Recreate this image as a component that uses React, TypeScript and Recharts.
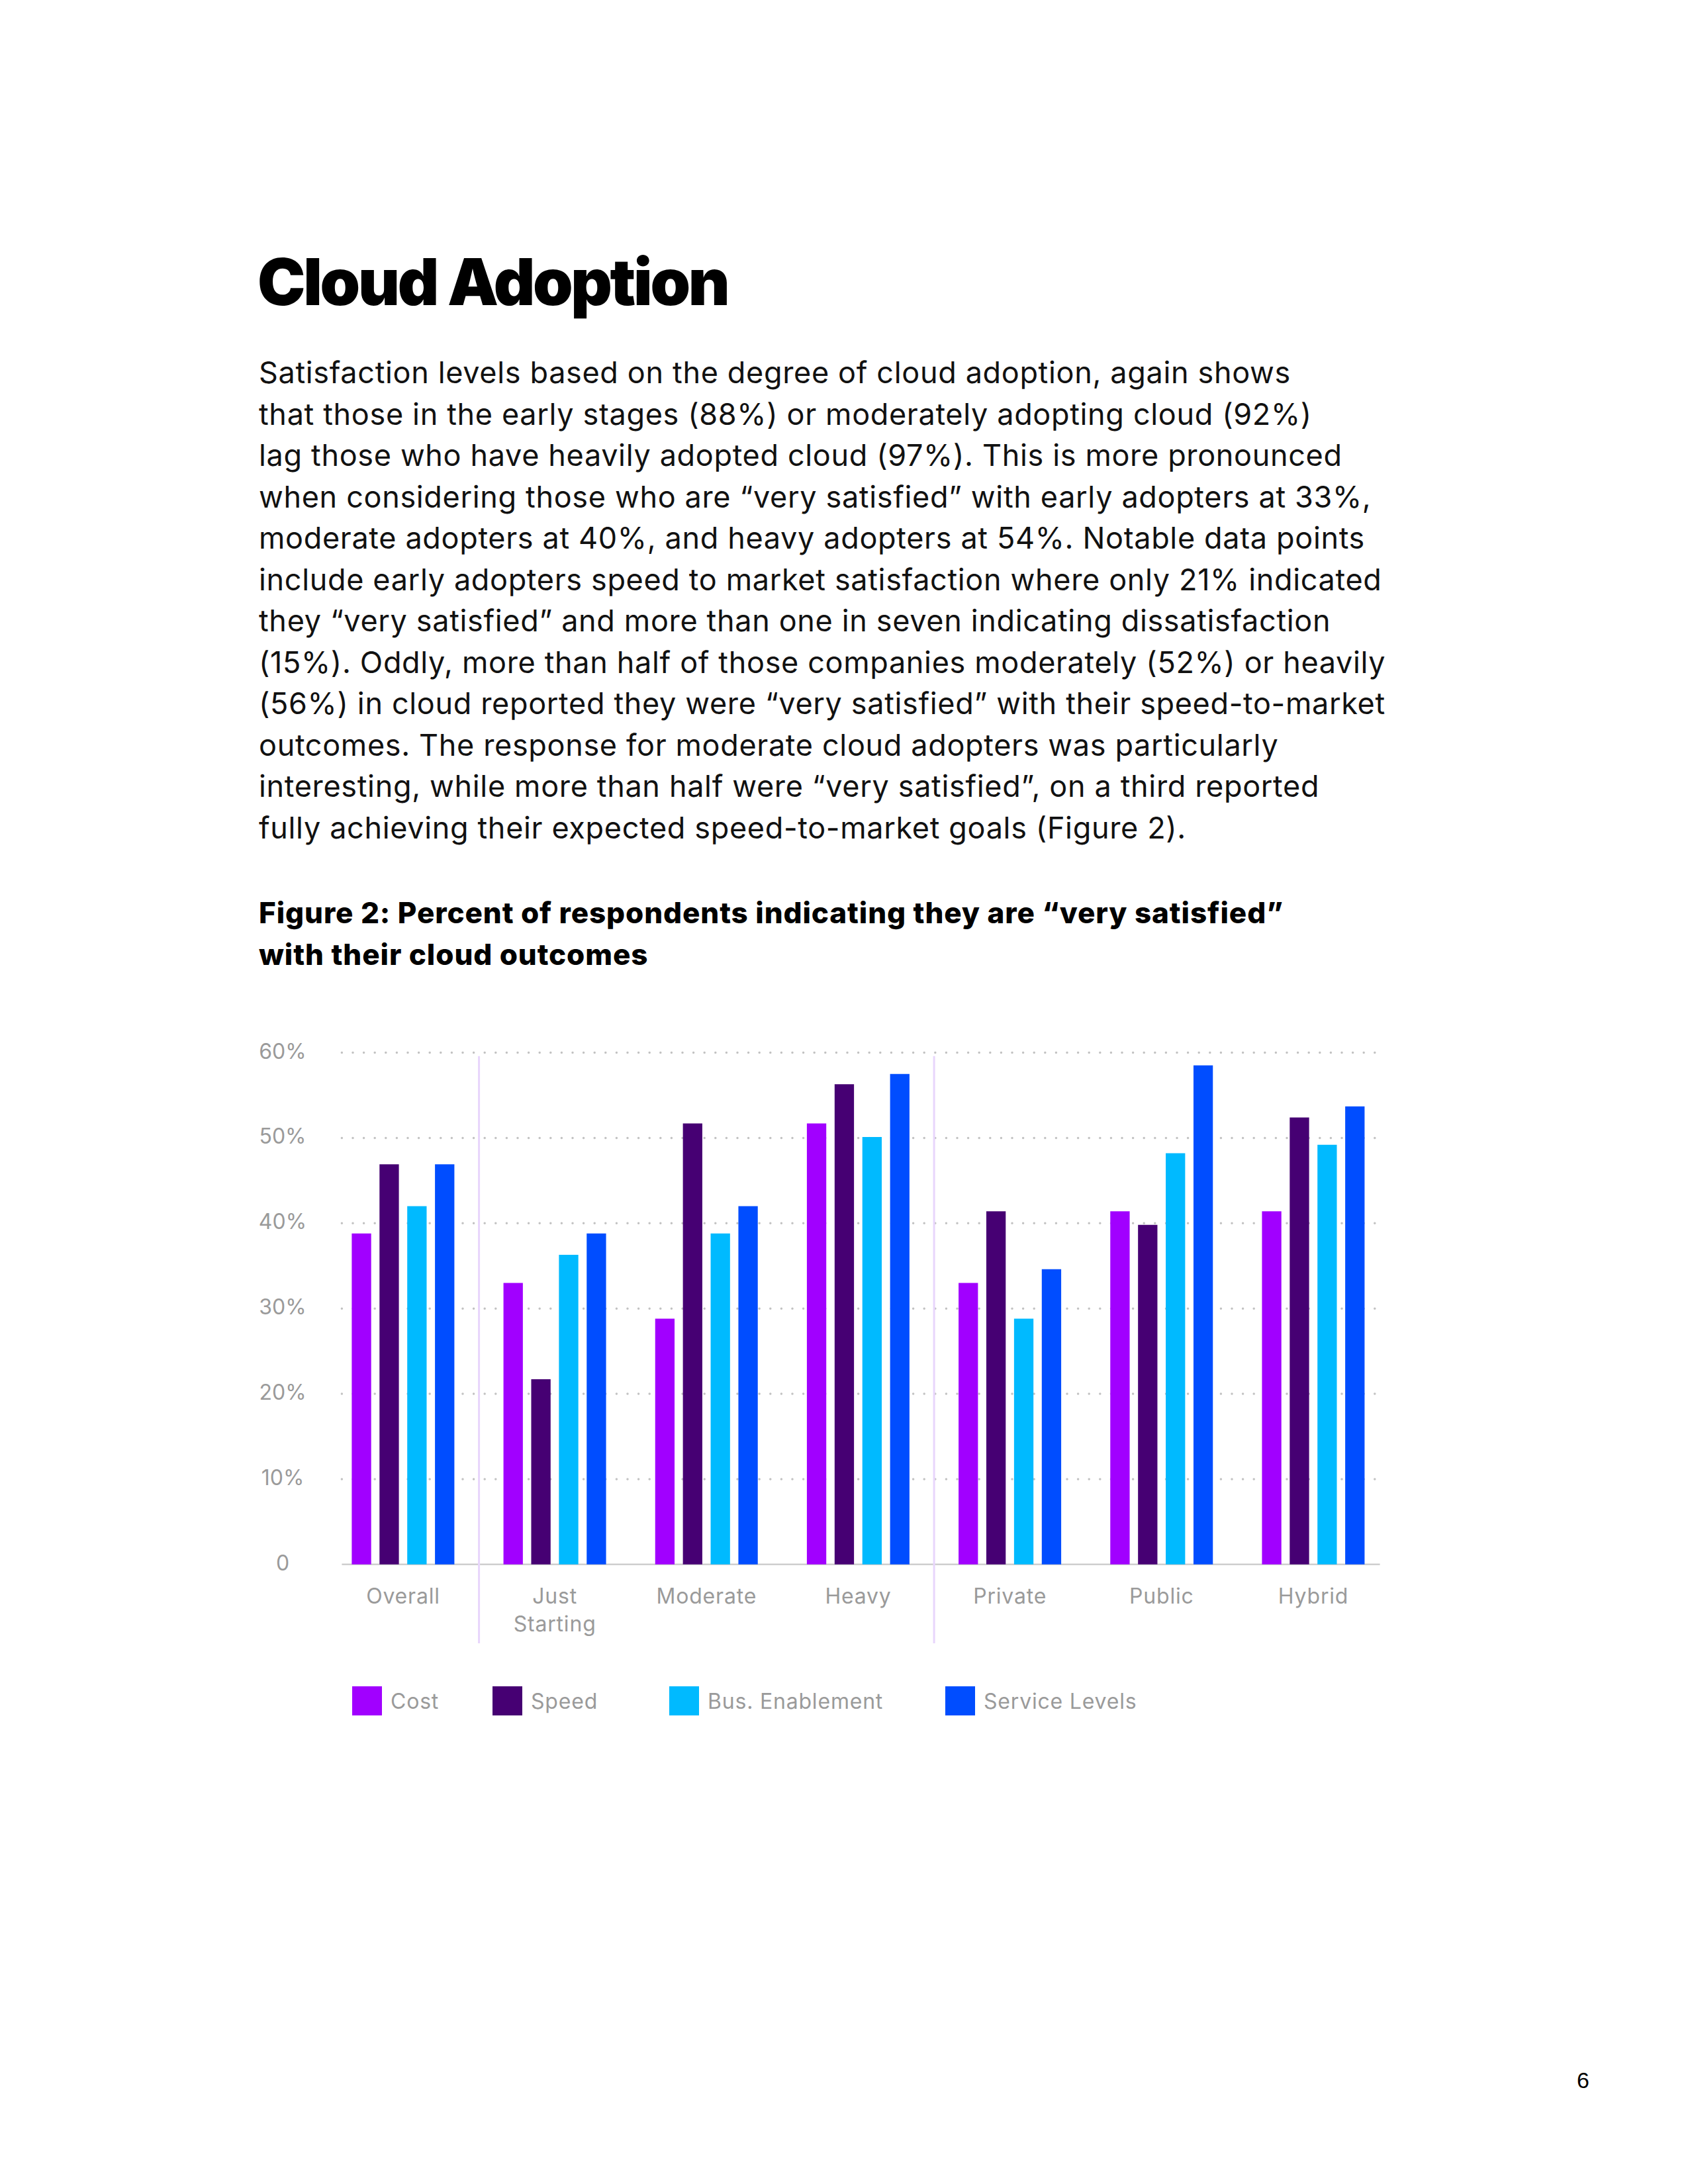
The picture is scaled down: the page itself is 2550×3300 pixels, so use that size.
import React from 'react';
import { BarChart, Bar, XAxis, YAxis, CartesianGrid, ReferenceLine } from 'recharts';

// chart values (percent "very satisfied")
const categories = ['Overall', 'Just Starting', 'Moderate', 'Heavy', 'Private', 'Public', 'Hybrid'];
const categoryLabels = [['Overall'], ['Just', 'Starting'], ['Moderate'], ['Heavy'], ['Private'], ['Public'], ['Hybrid']];
const costValues = [38.8, 33, 28.8, 51.7, 33, 41.4, 41.4];
const speedValues = [46.9, 21.7, 51.7, 56.3, 41.4, 39.8, 52.4];
const busEnablementValues = [42, 36.3, 38.8, 50.1, 28.8, 48.2, 49.2];
const serviceLevelValues = [46.9, 38.8, 42, 57.5, 34.6, 58.5, 53.7];
const yTicks = [0, 10, 20, 30, 40, 50, 60];
const groupDividers = ['Just Starting', 'Private'];

const seriesNames = ['Cost', 'Speed', 'Bus. Enablement', 'Service Levels'];
const seriesKeys = ['cost', 'speed', 'busEnablement', 'serviceLevels'];
const seriesColors = ['#A100FF', '#460073', '#00BAFF', '#004DFF'];

const paragraph = [
  'Satisfaction levels based on the degree of cloud adoption, again shows',
  'that those in the early stages (88%) or moderately adopting cloud (92%)',
  'lag those who have heavily adopted cloud (97%). This is more pronounced',
  'when considering those who are \u201cvery satisfied\u201d with early adopters at 33%,',
  'moderate adopters at 40%, and heavy adopters at 54%. Notable data points',
  'include early adopters speed to market satisfaction where only 21% indicated',
  'they \u201cvery satisfied\u201d and more than one in seven indicating dissatisfaction',
  '(15%). Oddly, more than half of those companies moderately (52%) or heavily',
  '(56%) in cloud reported they were \u201cvery satisfied\u201d with their speed-to-market',
  'outcomes. The response for moderate cloud adopters was particularly',
  'interesting, while more than half were \u201cvery satisfied\u201d, on a third reported',
  'fully achieving their expected speed-to-market goals (Figure 2).',
];

const data = categories.map((name, i) => ({
  name,
  cost: costValues[i],
  speed: speedValues[i],
  busEnablement: busEnablementValues[i],
  serviceLevels: serviceLevelValues[i],
}));

const FONT = 'Inter, "Noto Sans", sans-serif';
const legendLeft = [532, 744, 1011, 1428];

const YTick = (props: any) => {
  const v = props.payload.value;
  return (
    <text x={427} y={props.y + 9} textAnchor="middle" fill="#9a9a9a" fontSize={32} fontFamily={FONT}>
      {v === 0 ? '0' : `${v}%`}
    </text>
  );
};

const XTick = (props: any) => {
  const idx = categories.indexOf(props.payload.value);
  const lines = categoryLabels[idx] || [props.payload.value];
  return (
    <text x={props.x} y={props.y + 59} textAnchor="middle" fill="#9a9a9a" fontSize={32} fontFamily={FONT} letterSpacing={0.8}>
      {lines.map((l, i) => (
        <tspan key={i} x={props.x} dy={i === 0 ? 0 : 42}>{l}</tspan>
      ))}
    </text>
  );
};

// dotted grid, inset a little from the plot edges; the zero line is solid
const GridLine = (props: any) => {
  const { x1, x2, y1, y2, index } = props;
  if (index === 0 || Math.abs(y1 - 863.8) < 1) {
    return <line key={props.key} x1={x1 + 22} x2={x2 - 14} y1={y1} y2={y2} stroke="#cfcfcf" strokeWidth={2.5} />;
  }
  return (
    <line key={props.key} x1={x1 + 22} x2={x2 - 14} y1={y1} y2={y2}
      stroke="#c2c2c2" strokeWidth={3.5} strokeDasharray="0 16.6" strokeLinecap="round" />
  );
};

export default function App() {
  return (
    <div style={{ position: 'absolute', left: 0, top: 0, width: 2550, height: 3300, background: '#fff', overflow: 'hidden' }}>
      <div style={{ position: 'absolute', left: 389, top: 366, fontFamily: FONT, fontWeight: 900, fontSize: 97, letterSpacing: -3.3, color: '#000', lineHeight: '120px' }}>
        Cloud Adoption
      </div>

      <div style={{ position: 'absolute', left: 391, top: 532, fontFamily: FONT, fontSize: 45, letterSpacing: 0.65, color: '#111', lineHeight: '62.5px', whiteSpace: 'pre' }}>
        {paragraph.map((l, i) => <div key={i}>{l}</div>)}
      </div>

      <div style={{ position: 'absolute', left: 391, top: 1348, fontFamily: FONT, fontWeight: 800, fontSize: 44, letterSpacing: 0.9, color: '#000', lineHeight: '63px', whiteSpace: 'pre' }}>
        <div>Figure 2: Percent of respondents indicating they are {'\u201cvery satisfied\u201d'}</div>
        <div>with their cloud outcomes</div>
      </div>

      <div style={{ position: 'absolute', left: 0, top: 1500, width: 2200, height: 1000 }}>
        <BarChart width={2200} height={1000} data={data} barSize={29.3} barGap={12.6}
          margin={{ top: 90.5, right: 101.4, left: 0, bottom: 36.2 }}>
          <CartesianGrid vertical={false} horizontal={GridLine} />
          <YAxis width={494.4} domain={[0, 60]} ticks={yTicks} axisLine={false} tickLine={false} tick={<YTick />} interval={0} />
          <XAxis dataKey="name" height={100} axisLine={false} tickLine={false} tickSize={0} tickMargin={0} tick={<XTick />} interval={0} />
          {seriesKeys.map((k, i) => (
            <Bar key={k} dataKey={k} name={seriesNames[i]} fill={seriesColors[i]} isAnimationActive={false} />
          ))}
          {groupDividers.map((c) => (
            <ReferenceLine key={c} position="start" ifOverflow="visible" stroke="#E8D6FC" strokeWidth={3}
              segment={[{ x: c, y: 59.6 }, { x: c, y: -9.25 }]} />
          ))}
        </BarChart>
      </div>

      {seriesNames.map((n, i) => (
        <div key={n} style={{ position: 'absolute', left: legendLeft[i], top: 2548, height: 44, display: 'flex', alignItems: 'center' }}>
          <div style={{ width: 45, height: 44, background: seriesColors[i] }} />
          <span style={{ marginLeft: 13, fontFamily: FONT, fontSize: 32, color: '#9a9a9a', letterSpacing: 0.8 }}>{n}</span>
        </div>
      ))}

      <div style={{ position: 'absolute', left: 2382, top: 3124, fontFamily: '"Liberation Sans", Arial, sans-serif', fontSize: 34, color: '#000' }}>
        6
      </div>
    </div>
  );
}
